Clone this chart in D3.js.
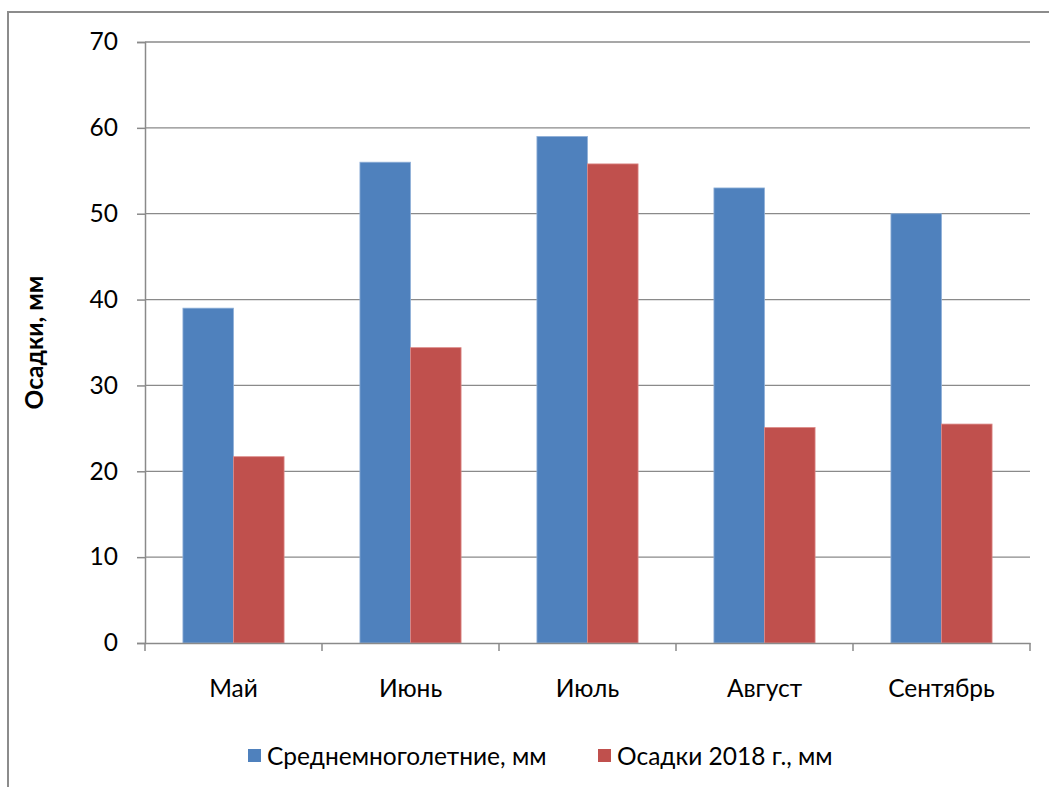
<!DOCTYPE html>
<html>
<head>
<meta charset="utf-8">
<script src="https://cdn.jsdelivr.net/npm/d3@7"></script>
<style>
  html, body { margin: 0; padding: 0; background: #fff; }
  svg text { font-family: Lato, "Open Sans", sans-serif; fill: #000; }
</style>
</head>
<body>
<svg id="chart" width="1049" height="787"></svg>
<script>
// Monthly precipitation, mm
const months = ["Май", "Июнь", "Июль", "Август", "Сентябрь"];
const longTermMean = [39, 56, 59, 53, 50];
const precip2018 = [21.7, 34.4, 55.8, 25.1, 25.5];
const seriesNames = ["Среднемноголетние, мм", "Осадки 2018 г., мм"];
const seriesColors = ["#4F81BD", "#C0504D"];
const yTicks = [0, 10, 20, 30, 40, 50, 60, 70];

const svg = d3.select("#chart");
const plot = { left: 145, right: 1030, top: 42, bottom: 643 };
const fontSize = 24.5;

// outer chart frame (only the top and left edges fall inside the view)
svg.append("path")
  .attr("d", "M8,787 V12 H1049")
  .attr("fill", "none")
  .attr("stroke", "#8c8c8c")
  .attr("stroke-width", 2);

const x = d3.scaleBand().domain(months).range([plot.left, plot.right]).padding(0);
const series = d3.scaleBand().domain([0, 1]).range([0, x.bandwidth()]).paddingInner(0).paddingOuter(0.75);
const y = d3.scaleLinear().domain([0, 70]).range([plot.bottom, plot.top]);

// horizontal gridlines
svg.append("g")
  .selectAll("line")
  .data(yTicks.filter(d => d > 0))
  .join("line")
  .attr("x1", plot.left).attr("x2", plot.right)
  .attr("y1", d => y(d)).attr("y2", d => y(d))
  .attr("stroke", "#8a8a8a")
  .attr("stroke-width", 1.3);

// bars
const rows = months.map((m, i) => ({ month: m, values: [longTermMean[i], precip2018[i]] }));
const groups = svg.append("g")
  .selectAll("g")
  .data(rows)
  .join("g")
  .attr("transform", d => `translate(${x(d.month)},0)`);

groups.selectAll("rect")
  .data(d => d.values.map((v, k) => ({ k, v })))
  .join("rect")
  .attr("x", d => series(d.k))
  .attr("width", series.bandwidth())
  .attr("y", d => y(d.v))
  .attr("height", d => y(0) - y(d.v))
  .attr("fill", d => seriesColors[d.k])
  .attr("stroke", d => d.k === 0 ? "#8fb0d8" : "#dc8a88")
  .attr("stroke-width", 0.8);

// y axis
const yAxis = d3.axisLeft(y).tickValues(yTicks).tickSize(8).tickPadding(19);
const gy = svg.append("g").attr("transform", `translate(${plot.left},0)`).call(yAxis);
gy.select(".domain").attr("stroke", "#8a8a8a").attr("stroke-width", 1.5);
gy.selectAll(".tick line").attr("stroke", "#8a8a8a").attr("stroke-width", 1.5);
gy.selectAll(".tick text").attr("font-size", fontSize).attr("font-family", "Lato, sans-serif").attr("fill", "#000");

// x axis with ticks between categories
const xAxis = d3.axisBottom(x).tickSize(0).tickPadding(37);
const gx = svg.append("g").attr("transform", `translate(0,${plot.bottom})`).call(xAxis);
gx.select(".domain").attr("stroke", "#8a8a8a").attr("stroke-width", 1.5);
gx.selectAll(".tick text").attr("font-size", fontSize).attr("font-family", "Lato, sans-serif").attr("fill", "#000");
gx.append("g")
  .selectAll("line")
  .data(months.map(m => x(m)).concat([x(months[months.length - 1]) + x.bandwidth()]))
  .join("line")
  .attr("x1", d => d).attr("x2", d => d)
  .attr("y1", 0).attr("y2", 8)
  .attr("stroke", "#8a8a8a").attr("stroke-width", 1.5);

// y axis title
svg.append("text")
  .attr("transform", `translate(33,${(plot.top + plot.bottom) / 2}) rotate(-90)`)
  .attr("text-anchor", "middle")
  .attr("dominant-baseline", "central")
  .attr("font-size", 24.5)
  .attr("font-weight", "bold")
  .text("Осадки, мм");

// legend
const legendItems = [{ x: 248, k: 0 }, { x: 598, k: 1 }];
const lg = svg.append("g").selectAll("g").data(legendItems).join("g")
  .attr("transform", d => `translate(${d.x},749)`);
lg.append("rect").attr("width", 13).attr("height", 13).attr("fill", d => seriesColors[d.k]);
lg.append("text")
  .attr("x", 19).attr("y", 6.5)
  .attr("dominant-baseline", "central")
  .attr("font-size", fontSize)
  .text(d => seriesNames[d.k]);
</script>
</body>
</html>
